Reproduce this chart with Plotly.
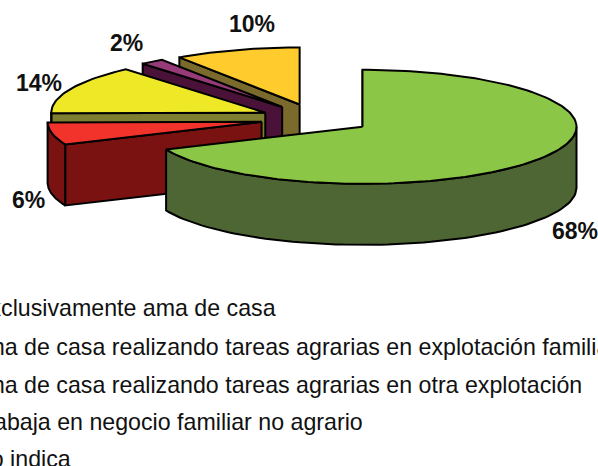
import numpy as np
import plotly.graph_objects as go

# Data
categories = [
    "Exclusivamente ama de casa",
    "Ama de casa realizando tareas agrarias en explotación familiar",
    "Ama de casa realizando tareas agrarias en otra explotación",
    "Trabaja en negocio familiar no agrario",
    "No indica",
]
values = [68.5, 6.3, 13.9, 1.8, 9.5]
value_labels = ["68%", "6%", "14%", "2%", "10%"]

# Styles
top_colors = ["#8CC646", "#F2332B", "#EEE827", "#963A78", "#FFCB2D"]
side_colors = ["#4E6633", "#7A1212", "#7F7F32", "#4A1238", "#7A6A2C"]

# Layout geometry (pixels, y down)
CX, CY, RX, RY, DEPTH, EXPLODE = 316, 118.7, 214, 57, 61, 0.26
LABEL_XY = [(575, 231), (28, 200), (39, 83), (126, 43), (252, 24)]
LEGEND_Y = [308, 347, 385, 422, 459]
LEGEND_X = [-28, -32.5, -32.5, -29.5, -28]

fig = go.Figure()


def poly(xs, ys, color):
    fig.add_trace(go.Scatter(
        x=list(xs) + [xs[0]], y=list(ys) + [ys[0]], mode="lines", fill="toself",
        fillcolor=color, line=dict(color="#000000", width=2),
        hoverinfo="skip", showlegend=False,
    ))


total = sum(values)
ends = np.cumsum(values) / total * 2 * np.pi
starts = np.concatenate([[0], ends[:-1]])

for i in reversed(range(len(values))):
    s, e = starts[i], ends[i]
    mid = (s + e) / 2
    ax = CX + EXPLODE * RX * np.sin(mid)
    ay = CY - EXPLODE * RY * np.cos(mid)
    px = lambda t: ax + RX * np.sin(t)
    py = lambda t: ay - RY * np.cos(t)

    # cut face at the slice's starting angle
    poly([ax, px(s), px(s), ax],
         [ay, py(s), py(s) + DEPTH, ay + DEPTH], side_colors[i])

    # outer wall, front half of the ellipse only
    w0, w1 = max(s, np.pi / 2), min(e, 3 * np.pi / 2)
    if w1 > w0:
        t = np.linspace(w0, w1, 80)
        poly(np.r_[px(t), px(t[::-1])],
             np.r_[py(t), py(t[::-1]) + DEPTH], side_colors[i])

    # top face
    t = np.linspace(s, e, max(8, int((e - s) * 40)))
    poly(np.r_[ax, px(t)], np.r_[ay, py(t)], top_colors[i])

annotations = []
for (x, y), txt in zip(LABEL_XY, value_labels):
    annotations.append(dict(x=x, y=y, xref="x", yref="y", text=txt, showarrow=False,
                            xanchor="center", yanchor="middle",
                            font=dict(family="Liberation Sans", size=23, color="#111111",
                                      weight="bold")))
for x, y, txt in zip(LEGEND_X, LEGEND_Y, categories):
    annotations.append(dict(x=x / 598, y=1 - y / 466, xref="paper", yref="paper", text=txt,
                            showarrow=False, xanchor="left", yanchor="middle",
                            font=dict(family="Liberation Sans", size=23.2, color="#111111")))

fig.update_layout(
    width=598, height=466, margin=dict(l=0, r=0, t=0, b=0),
    paper_bgcolor="white", plot_bgcolor="white",
    xaxis=dict(range=[0, 598], visible=False, fixedrange=True),
    yaxis=dict(range=[466, 0], visible=False, fixedrange=True),
    annotations=annotations, showlegend=False,
)
fig.write_html("out.html", config=dict(displayModeBar=False),
               post_script="document.body.style.margin='0';document.body.style.overflow='hidden';")
